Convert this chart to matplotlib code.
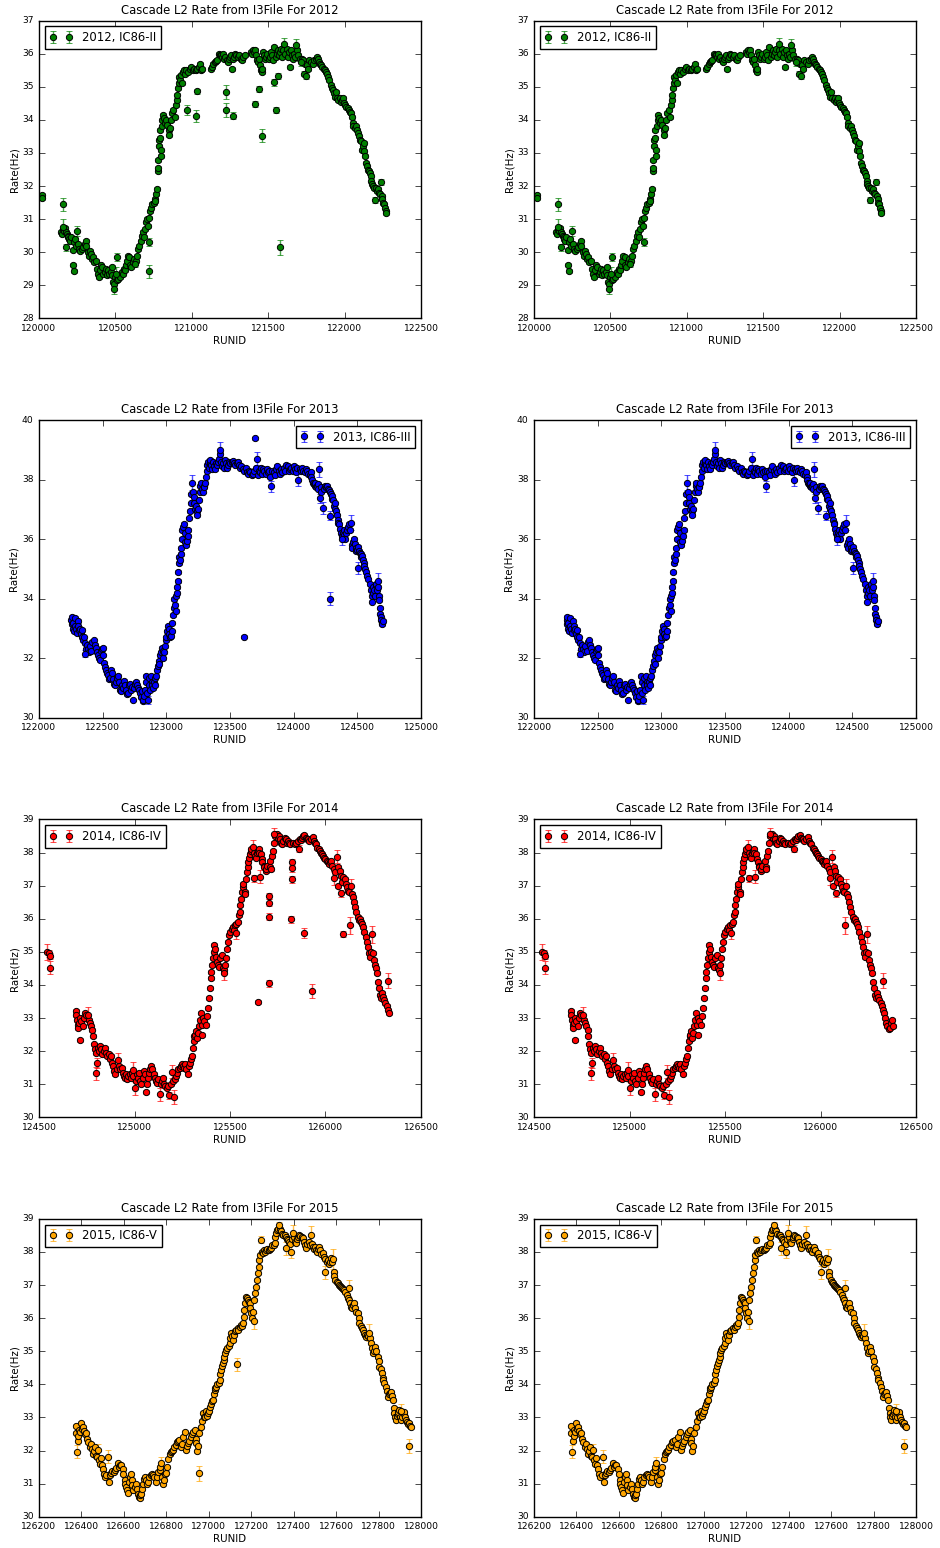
import matplotlib
matplotlib.use('Agg')
import matplotlib.pyplot as plt
import numpy as np

# (run, rate in Hz) for the good runs of each season
band_2012 = [
    (120018, 31.72), (120022, 31.65),
    (120145, 30.6), (120150, 30.55), (120155, 30.7), (120165, 30.65), (120170, 30.72), (120178, 30.6),
    (120182, 30.55), (120188, 30.5), (120193, 30.45), (120198, 30.4), (120205, 30.35), (120212, 30.45),
    (120220, 30.06), (120225, 29.63), (120226, 29.42), (120230, 30.3), (120236, 30.4), (120242, 30.2),
    (120255, 30.25), (120262, 30.1), (120270, 30.05), (120280, 30.1), (120290, 30.15), (120300, 30.25),
    (120305, 30.35), (120310, 30.2), (120318, 30.0), (120325, 29.9), (120332, 30.05), (120340, 29.95),
    (120348, 29.8), (120355, 29.85), (120362, 29.7), (120370, 29.75), (120378, 29.5), (120385, 29.35),
    (120392, 29.25), (120400, 29.45), (120408, 29.6), (120415, 29.55), (120422, 29.35), (120430, 29.4),
    (120438, 29.5), (120445, 29.3), (120452, 29.45), (120460, 29.35), (120468, 29.4), (120475, 29.55),
    (120480, 29.3), (120485, 29.1), (120492, 29.05), (120498, 29.25), (120512, 29.15), (120518, 29.2),
    (120525, 29.3), (120532, 29.25), (120540, 29.4), (120548, 29.35), (120555, 29.5), (120562, 29.45),
    (120570, 29.6), (120578, 29.75), (120585, 29.9), (120592, 29.85), (120598, 29.6), (120605, 29.55),
    (120612, 29.7), (120620, 29.8), (120635, 29.75), (120642, 29.9), (120650, 30.1), (120657, 30.2),
    (120665, 30.35), (120672, 30.5), (120680, 30.6), (120688, 30.45), (120694, 30.7), (120700, 30.9),
    (120705, 31.0), (120712, 30.8), (120722, 31.05), (120728, 31.25), (120735, 31.35), (120742, 31.45),
    (120750, 31.5), (120756, 31.6), (120762, 31.55), (120768, 31.75), (120772, 31.9), (120776, 32.45),
    (120778, 32.55), (120780, 32.8), (120783, 33.2), (120786, 33.4), (120790, 33.7), (120793, 33.45),
    (120797, 33.1), (120800, 32.9), (120803, 33.8), (120808, 34.0), (120812, 34.15), (120818, 34.05),
    (120825, 33.9), (120832, 34.0), (120840, 33.85), (120848, 33.7), (120853, 33.55), (120858, 33.75),
    (120865, 34.0), (120872, 34.2), (120880, 34.3), (120888, 34.1), (120895, 34.45), (120900, 34.6),
    (120905, 34.75), (120910, 34.95), (120915, 35.1), (120918, 35.3), (120922, 35.2), (120928, 35.35),
    (120935, 35.1), (120942, 35.45), (120950, 35.5), (120958, 35.4), (120965, 35.5), (120975, 35.45),
    (120985, 35.55), (120995, 35.6), (121005, 35.5), (121015, 35.55), (121025, 35.5), (121035, 35.55),
    (121045, 35.6), (121052, 35.68), (121060, 35.5), (121068, 35.55),
    (121128, 35.55), (121135, 35.6), (121142, 35.7), (121150, 35.75), (121158, 35.78), (121165, 35.8),
    (121175, 36.0), (121182, 35.95), (121190, 35.95), (121198, 35.9), (121205, 36.0), (121212, 35.85),
    (121220, 35.9), (121228, 35.8), (121235, 35.75), (121242, 35.85), (121250, 35.9), (121258, 35.95),
    (121265, 35.55), (121270, 35.85), (121278, 35.9), (121285, 36.0), (121292, 35.95), (121300, 35.9),
    (121310, 35.95), (121320, 35.85), (121328, 35.8), (121335, 35.9), (121345, 35.95),
    (121385, 36.05), (121392, 36.0), (121400, 36.1), (121405, 36.05), (121412, 36.1), (121420, 35.95),
    (121428, 35.8), (121435, 35.75), (121440, 35.85), (121446, 35.65), (121452, 35.5), (121458, 35.45),
    (121462, 35.55), (121466, 36.05), (121472, 35.95), (121480, 35.85), (121488, 35.9), (121495, 36.0),
    (121502, 35.85), (121510, 35.9), (121518, 36.05), (121525, 35.95), (121532, 35.8), (121540, 36.2),
    (121548, 35.9), (121555, 36.0), (121562, 36.1), (121570, 35.95), (121578, 36.05), (121585, 36.15),
    (121592, 35.9), (121600, 36.1), (121612, 36.0), (121620, 36.15), (121628, 35.9), (121635, 36.05),
    (121640, 35.6), (121648, 36.1), (121655, 35.95), (121662, 35.85), (121670, 36.0), (121677, 35.9),
    (121690, 36.1), (121697, 35.95), (121705, 35.85), (121720, 35.85), (121728, 35.8), (121742, 35.7),
    (121755, 35.65), (121762, 35.55), (121770, 35.8), (121780, 35.75), (121790, 35.7), (121800, 35.8),
    (121810, 35.85), (121818, 35.9), (121825, 35.85), (121832, 35.75), (121840, 35.7), (121848, 35.65),
    (121855, 35.6), (121862, 35.55), (121870, 35.5), (121878, 35.45), (121885, 35.4), (121892, 35.3),
    (121900, 35.2), (121908, 35.05), (121915, 34.95), (121922, 34.9), (121930, 34.8), (121938, 34.7),
    (121945, 34.85), (121952, 34.65), (121960, 34.6), (121968, 34.65), (121975, 34.55), (121982, 34.6),
    (121990, 34.65), (121998, 34.5), (122005, 34.45), (122012, 34.4), (122020, 34.35), (122028, 34.3),
    (122035, 34.25), (122042, 34.2), (122048, 34.1), (122053, 33.9), (122058, 33.8), (122065, 33.75),
    (122072, 33.8), (122080, 33.7), (122088, 33.6), (122094, 33.5), (122100, 33.4), (122106, 33.35),
    (122112, 33.1), (122118, 33.2), (122124, 33.3), (122130, 33.05), (122135, 32.9), (122140, 32.7),
    (122146, 32.6), (122152, 32.5), (122158, 32.45), (122164, 32.4), (122170, 32.3), (122176, 32.15),
    (122182, 32.05), (122188, 32.0), (122195, 31.95), (122206, 31.95), (122212, 31.85), (122218, 31.9),
    (122224, 31.8), (122230, 31.75), (122242, 31.7), (122248, 31.6), (122254, 31.5), (122260, 31.45),
    (122265, 31.35), (122270, 31.25), (122274, 31.2),
]
# short runs with a visible uncertainty: (run, rate, error)
short_2012 = [
    (120157, 31.45, 0.2), (120160, 30.75, 0.25), (120175, 30.15, 0.1), (120250, 30.64, 0.15),
    (120488, 28.9, 0.15), (120503, 29.35, 0.2), (120510, 29.85, 0.12), (120628, 29.65, 0.1),
    (120718, 30.3, 0.12), (121606, 36.3, 0.18), (121683, 36.25, 0.18), (121712, 35.75, 0.12),
    (121736, 35.4, 0.08), (121748, 35.32, 0.1), (122200, 31.58, 0.08), (122236, 32.12, 0.1),
]
# runs dropped by the quality cut
dropped_2012 = [
    (120719, 29.42, 0.2), (120968, 34.3, 0.15), (121029, 34.13, 0.18), (121035, 34.86, 0.08),
    (121225, 34.84, 0.2), (121225, 34.3, 0.2), (121268, 34.13, 0.1), (121415, 34.48, 0.1),
    (121460, 33.52, 0.2), (121443, 34.93, 0.1), (121537, 35.13, 0.1), (121552, 34.3, 0.1),
    (121563, 35.33, 0.08), (121574, 30.15, 0.22),
]

band_2013 = [
    (122255, 33.3), (122258, 33.15), (122262, 33.4), (122266, 33.0), (122270, 33.2), (122274, 32.9),
    (122280, 33.1), (122286, 33.35), (122292, 33.0), (122298, 32.85), (122304, 33.25), (122310, 33.1),
    (122316, 32.95), (122322, 33.0), (122328, 32.8), (122334, 32.95), (122340, 32.7), (122346, 32.6),
    (122352, 32.7), (122360, 32.5), (122372, 32.3), (122380, 32.45), (122388, 32.3), (122396, 32.2),
    (122404, 32.4), (122412, 32.25), (122420, 32.55), (122428, 32.6), (122436, 32.45), (122444, 32.35),
    (122452, 32.2), (122460, 32.1), (122468, 32.0), (122476, 31.95), (122484, 32.25), (122492, 32.3),
    (122500, 32.35), (122506, 32.1), (122512, 31.85), (122518, 31.7), (122524, 31.6), (122532, 31.5),
    (122540, 31.45), (122548, 31.3), (122556, 31.35), (122564, 31.6), (122572, 31.5), (122580, 31.3),
    (122588, 31.15), (122596, 31.1), (122604, 31.2), (122612, 31.35), (122620, 31.4), (122628, 31.2),
    (122636, 30.95), (122644, 30.9), (122652, 31.1), (122660, 31.0), (122668, 31.25), (122676, 31.1),
    (122684, 30.95), (122692, 30.8), (122700, 30.85), (122708, 31.1), (122716, 31.15), (122724, 30.95),
    (122732, 31.05), (122746, 31.0), (122754, 31.15), (122762, 31.2), (122770, 31.1), (122778, 31.0),
    (122786, 30.95), (122794, 30.85), (122802, 30.7), (122808, 30.9), (122814, 30.55), (122820, 30.6),
    (122826, 30.75), (122832, 30.95), (122838, 31.4), (122844, 31.2), (122850, 30.85), (122860, 31.35),
    (122866, 31.1), (122872, 30.95), (122878, 31.4), (122884, 31.2), (122890, 31.1), (122896, 31.0),
    (122902, 31.2), (122908, 31.1), (122914, 31.35), (122920, 31.4), (122928, 31.6), (122934, 31.75),
    (122940, 31.9), (122946, 31.8), (122952, 32.1), (122958, 32.2), (122964, 32.35), (122970, 32.25),
    (122976, 32.0), (122982, 32.2), (122988, 32.4), (122994, 32.6), (123000, 32.7), (123006, 32.9),
    (123012, 33.1), (123018, 33.0), (123024, 32.8), (123030, 32.7), (123036, 32.75), (123042, 32.9),
    (123048, 33.2), (123054, 33.45), (123060, 33.7), (123064, 34.0), (123068, 33.8), (123072, 33.6),
    (123076, 34.1), (123080, 34.2), (123084, 34.4), (123088, 34.6), (123092, 34.9), (123096, 35.2),
    (123100, 35.4), (123106, 35.3), (123112, 35.5), (123118, 35.7), (123122, 36.0), (123126, 36.3),
    (123132, 36.4), (123138, 36.5), (123144, 36.2), (123150, 35.9), (123156, 35.8), (123162, 35.95),
    (123168, 36.1), (123174, 36.3), (123180, 36.7), (123186, 36.95), (123190, 37.2), (123196, 37.5),
    (123208, 37.6), (123214, 37.4), (123220, 37.2), (123226, 37.0), (123232, 37.1), (123238, 36.95),
    (123244, 36.8), (123250, 37.0), (123256, 37.3), (123262, 37.6), (123268, 37.8), (123274, 37.9),
    (123280, 37.7), (123286, 37.6), (123292, 37.8), (123298, 37.75), (123304, 37.9), (123310, 38.1),
    (123316, 38.3), (123322, 38.5), (123328, 38.6), (123334, 38.4), (123340, 38.55), (123346, 38.65),
    (123352, 38.5), (123358, 38.35), (123364, 38.6), (123372, 38.45), (123380, 38.35), (123388, 38.55),
    (123396, 38.5), (123404, 38.6), (123412, 38.7), (123424, 38.85), (123430, 38.6), (123438, 38.45),
    (123446, 38.55), (123454, 38.4), (123462, 38.65), (123470, 38.55), (123478, 38.4), (123486, 38.5),
    (123494, 38.6), (123502, 38.55), (123512, 38.6), (123522, 38.62), (123532, 38.55), (123542, 38.5),
    (123552, 38.55), (123562, 38.6), (123572, 38.5), (123580, 38.4), (123590, 38.45), (123600, 38.35),
    (123612, 38.3), (123622, 38.4), (123630, 38.25), (123640, 38.2), (123650, 38.3), (123660, 38.25),
    (123670, 38.15), (123680, 38.2), (123690, 38.3), (123702, 38.4), (123716, 38.15), (123724, 38.3),
    (123734, 38.25), (123744, 38.4), (123752, 38.2), (123760, 38.35), (123770, 38.3), (123780, 38.2),
    (123790, 38.35), (123800, 38.25), (123810, 38.3), (123816, 38.1), (123832, 38.3), (123842, 38.25),
    (123852, 38.15), (123862, 38.35), (123872, 38.45), (123882, 38.3), (123892, 38.2), (123902, 38.35),
    (123912, 38.25), (123922, 38.4), (123932, 38.3), (123942, 38.5), (123952, 38.45), (123962, 38.3),
    (123972, 38.35), (123982, 38.4), (123992, 38.3), (124002, 38.45), (124012, 38.35), (124022, 38.25),
    (124030, 38.4), (124046, 38.35), (124056, 38.3), (124066, 38.4), (124076, 38.3), (124086, 38.25),
    (124096, 38.35), (124106, 38.3), (124116, 38.2), (124126, 38.15), (124134, 38.25), (124140, 38.1),
    (124146, 38.0), (124152, 37.9), (124158, 37.85), (124164, 37.8), (124170, 37.9), (124176, 37.75),
    (124182, 37.8), (124188, 37.85), (124194, 37.7), (124212, 37.75), (124218, 37.6), (124236, 37.7),
    (124244, 37.8), (124252, 37.75), (124260, 37.8), (124268, 37.7), (124276, 37.65), (124284, 37.6),
    (124292, 37.5), (124298, 37.35), (124304, 37.45), (124310, 37.3), (124316, 37.1), (124322, 37.2),
    (124328, 37.0), (124334, 36.95), (124340, 36.8), (124346, 36.65), (124352, 36.55), (124358, 36.5),
    (124364, 36.35), (124370, 36.2), (124376, 36.1), (124386, 36.2), (124392, 36.3), (124398, 36.15),
    (124406, 36.0), (124414, 36.2), (124422, 36.3), (124430, 36.4), (124438, 36.5), (124444, 36.3),
    (124456, 35.8), (124462, 35.7), (124468, 35.9), (124474, 36.0), (124480, 35.85), (124486, 35.7),
    (124492, 35.6), (124498, 35.65), (124508, 35.75), (124514, 35.6), (124520, 35.55), (124526, 35.5),
    (124532, 35.4), (124538, 35.45), (124544, 35.3), (124550, 35.2), (124556, 35.1), (124562, 35.0),
    (124568, 34.9), (124574, 34.75), (124580, 34.65), (124600, 34.5), (124606, 34.3), (124612, 34.1),
    (124616, 33.9), (124620, 34.2), (124626, 34.4), (124632, 34.3), (124638, 34.1), (124644, 34.45),
    (124650, 34.5), (124654, 34.3), (124664, 34.4), (124668, 34.1), (124672, 33.95), (124676, 33.7),
    (124680, 33.5), (124684, 33.4), (124688, 33.3), (124692, 33.2), (124696, 33.15), (124700, 33.25),
]
short_2013 = [
    (122364, 32.16, 0.12), (122738, 30.6, 0.05), (122855, 30.6, 0.15), (123203, 37.9, 0.25),
    (123418, 39.0, 0.25), (123711, 38.7, 0.22), (123823, 37.78, 0.18), (124038, 38.0, 0.22),
    (124202, 38.34, 0.25), (124208, 37.38, 0.15), (124228, 37.05, 0.2), (124289, 36.78, 0.15),
    (124380, 35.99, 0.2), (124450, 36.55, 0.25), (124503, 35.04, 0.2), (124660, 34.6, 0.25),
]
dropped_2013 = [
    (123609, 32.72, 0.05), (123698, 39.38, 0.05), (124289, 34.0, 0.22),
]

band_2014 = [
    (124693, 33.2), (124696, 33.1), (124699, 32.95), (124702, 32.8), (124705, 32.7), (124708, 32.85),
    (124717, 33.0), (124722, 32.9), (124728, 32.75), (124735, 33.0), (124742, 33.15), (124748, 33.1),
    (124762, 32.95), (124768, 32.85), (124774, 32.75), (124780, 32.65), (124785, 32.45), (124790, 32.2),
    (124794, 32.05), (124800, 31.95), (124808, 32.1), (124814, 32.0), (124820, 32.15), (124826, 32.05),
    (124832, 31.9), (124838, 32.0), (124845, 32.1), (124852, 31.95), (124858, 31.85), (124864, 31.9),
    (124870, 31.75), (124876, 31.85), (124882, 31.65), (124888, 31.55), (124894, 31.4), (124900, 31.3),
    (124906, 31.45), (124920, 31.55), (124926, 31.45), (124932, 31.5), (124938, 31.35), (124944, 31.25),
    (124950, 31.2), (124956, 31.3), (124962, 31.15), (124968, 31.25), (124974, 31.3), (124980, 31.2),
    (124986, 31.35), (124994, 31.25), (125006, 31.1), (125012, 31.3), (125018, 31.2), (125024, 31.35),
    (125030, 31.1), (125036, 31.0), (125042, 31.2), (125048, 31.4), (125054, 31.3), (125060, 30.75),
    (125064, 31.0), (125070, 31.2), (125076, 31.35), (125082, 31.45), (125088, 31.55), (125094, 31.45),
    (125100, 31.3), (125106, 31.2), (125112, 31.1), (125118, 31.05), (125124, 31.15), (125138, 31.0),
    (125144, 31.1), (125150, 31.2), (125156, 31.0), (125162, 30.95), (125168, 30.9), (125176, 30.95),
    (125190, 31.0), (125200, 31.1), (125212, 31.15), (125218, 31.25), (125224, 31.35), (125230, 31.45),
    (125236, 31.5), (125242, 31.55), (125248, 31.6), (125254, 31.55), (125260, 31.5), (125266, 31.6),
    (125272, 31.45), (125278, 31.3), (125284, 31.55), (125290, 31.65), (125296, 31.75), (125302, 31.85),
    (125306, 32.1), (125310, 32.3), (125314, 32.45), (125318, 32.5), (125322, 32.6), (125328, 32.4),
    (125334, 32.55), (125340, 32.75), (125344, 32.95), (125348, 33.15), (125352, 32.8), (125356, 32.5),
    (125360, 33.0), (125366, 32.9), (125372, 32.8), (125378, 33.05), (125384, 33.3), (125390, 33.6),
    (125394, 33.9), (125398, 34.2), (125402, 34.4), (125406, 34.6), (125410, 34.8), (125414, 35.0),
    (125418, 35.2), (125422, 35.1), (125426, 34.85), (125432, 34.7), (125438, 34.6), (125444, 34.55),
    (125450, 34.8), (125456, 34.9), (125462, 34.5), (125468, 34.45), (125476, 34.6), (125480, 34.8),
    (125486, 35.1), (125490, 35.3), (125496, 35.5), (125502, 35.6), (125508, 35.7), (125514, 35.75),
    (125520, 35.65), (125526, 35.8), (125534, 35.85), (125540, 35.9), (125546, 36.1), (125550, 36.2),
    (125554, 36.4), (125558, 36.6), (125562, 36.8), (125566, 36.95), (125570, 37.05), (125576, 36.8),
    (125580, 36.75), (125584, 37.2), (125588, 37.4), (125592, 37.55), (125596, 37.7), (125600, 37.85),
    (125604, 37.95), (125608, 38.05), (125612, 38.1), (125624, 38.0), (125632, 37.9), (125636, 37.85),
    (125640, 38.0), (125644, 38.05), (125650, 38.1), (125654, 38.0), (125662, 37.95), (125666, 37.8),
    (125670, 37.7), (125676, 37.6), (125680, 37.55), (125686, 37.45), (125690, 37.5), (125696, 37.6),
    (125708, 37.75), (125712, 37.55), (125716, 37.5), (125720, 37.9), (125724, 38.05), (125728, 38.3),
    (125738, 38.5), (125744, 38.55), (125750, 38.45), (125756, 38.5), (125762, 38.4), (125768, 38.3),
    (125774, 38.25), (125780, 38.35), (125786, 38.45), (125792, 38.4), (125798, 38.3), (125804, 38.35),
    (125810, 38.3), (125816, 38.25), (125830, 38.3), (125838, 38.25), (125846, 38.3), (125854, 38.35),
    (125866, 38.4), (125872, 38.38), (125878, 38.45), (125884, 38.5), (125890, 38.52), (125896, 38.45),
    (125902, 38.4), (125908, 38.42), (125916, 38.35), (125924, 38.4), (125932, 38.48), (125940, 38.35),
    (125946, 38.3), (125952, 38.25), (125958, 38.15), (125964, 38.1), (125970, 38.05), (125976, 38.0),
    (125982, 37.95), (125988, 37.9), (125994, 37.85), (126000, 37.8), (126006, 37.75), (126012, 37.7),
    (126018, 37.65), (126024, 37.7), (126030, 37.75), (126036, 37.6), (126042, 37.5), (126052, 37.4),
    (126064, 37.0), (126068, 37.55), (126074, 37.45), (126080, 37.3), (126086, 37.1), (126094, 37.25),
    (126100, 37.2), (126106, 37.05), (126112, 36.95), (126118, 36.85), (126124, 36.8), (126138, 36.75),
    (126144, 36.65), (126150, 36.5), (126156, 36.35), (126162, 36.2), (126168, 36.05), (126174, 35.95),
    (126180, 36.0), (126186, 35.9), (126192, 35.85), (126198, 35.75), (126204, 35.6), (126210, 35.45),
    (126216, 35.3), (126222, 35.15), (126228, 34.95), (126234, 34.85), (126240, 35.0), (126248, 34.95),
    (126254, 34.75), (126260, 34.6), (126266, 34.5), (126272, 34.35), (126276, 34.1), (126280, 33.9),
    (126284, 33.7), (126290, 33.6), (126296, 33.75), (126302, 33.65), (126308, 33.55), (126314, 33.45),
    (126320, 33.35), (126326, 33.25), (126332, 33.15),
]
short_2014 = [
    (124544, 35.0, 0.25), (124552, 34.95, 0.1), (124559, 34.87, 0.1), (124559, 34.52, 0.2),
    (124713, 32.34, 0.05), (124756, 33.1, 0.22), (124796, 31.33, 0.2), (124803, 31.63, 0.15),
    (124913, 31.74, 0.2), (124992, 31.43, 0.25), (125000, 30.88, 0.2), (125131, 30.7, 0.2),
    (125183, 30.66, 0.1), (125196, 31.38, 0.2), (125206, 30.61, 0.2), (125471, 34.35, 0.2),
    (125529, 35.58, 0.2), (125619, 38.17, 0.2), (125628, 37.22, 0.1), (125658, 37.27, 0.2),
    (125733, 38.55, 0.2), (125860, 38.12, 0.1), (126047, 37.22, 0.2), (126059, 37.87, 0.2),
    (126082, 36.77, 0.1), (126134, 36.99, 0.2), (126130, 35.8, 0.25), (126244, 35.53, 0.25),
    (126329, 34.13, 0.22),
]
dropped_2014 = [
    (125646, 33.48, 0.05), (125703, 36.69, 0.1), (125703, 36.49, 0.1), (125703, 36.06, 0.1),
    (125703, 34.05, 0.1), (125823, 37.7, 0.1), (125823, 37.52, 0.1), (125823, 37.19, 0.1),
    (125820, 35.98, 0.1), (125889, 35.58, 0.15), (125928, 33.82, 0.22), (126090, 35.54, 0.1),
]
# last runs of the season, only in the filtered list
late_2014 = [
    (126338, 33.0), (126344, 32.85), (126350, 32.75), (126356, 32.68), (126362, 32.7),
    (126368, 32.85), (126374, 32.95), (126378, 32.75),
]

band_2015 = [
    (126373, 32.75), (126376, 32.52), (126382, 32.3), (126386, 32.45), (126390, 32.62), (126394, 32.55),
    (126399, 32.82), (126404, 32.65), (126408, 32.72), (126413, 32.6), (126418, 32.5), (126423, 32.52),
    (126428, 32.35), (126433, 32.25), (126438, 32.12), (126443, 32.2), (126448, 32.05), (126453, 31.91),
    (126458, 32.0), (126463, 32.12), (126468, 31.85), (126473, 31.81), (126483, 31.7), (126488, 31.6),
    (126493, 31.76), (126498, 31.55), (126503, 31.45), (126508, 31.3), (126513, 31.2), (126518, 31.25),
    (126530, 31.04), (126535, 31.25), (126540, 31.31), (126546, 31.38), (126552, 31.35), (126558, 31.4),
    (126564, 31.46), (126570, 31.61), (126576, 31.5), (126582, 31.55), (126588, 31.56), (126594, 31.45),
    (126598, 31.3), (126603, 31.11), (126607, 31.0), (126611, 30.91), (126615, 30.8), (126619, 30.73),
    (126624, 31.05), (126628, 31.21), (126632, 31.3), (126636, 31.11), (126640, 30.95), (126645, 30.8),
    (126650, 30.9), (126655, 31.0), (126660, 30.85), (126665, 30.7), (126670, 30.6), (126674, 30.57),
    (126678, 30.65), (126682, 30.7), (126686, 30.85), (126690, 31.0), (126694, 31.15), (126698, 31.21),
    (126703, 31.1), (126708, 31.0), (126714, 31.05), (126720, 31.2), (126726, 31.26), (126732, 31.3),
    (126738, 31.25), (126744, 31.21), (126750, 31.06), (126756, 31.2), (126762, 31.35), (126768, 31.41),
    (126772, 31.5), (126780, 31.2), (126784, 31.0), (126790, 31.1), (126795, 31.3), (126800, 31.31),
    (126805, 31.5), (126810, 31.75), (126815, 31.91), (126820, 31.95), (126826, 32.0), (126832, 32.01),
    (126838, 32.1), (126844, 32.17), (126850, 32.25), (126856, 32.3), (126862, 32.32), (126868, 32.12),
    (126874, 32.2), (126880, 32.4), (126886, 32.57), (126891, 32.03), (126896, 32.15), (126902, 32.22),
    (126908, 32.3), (126914, 32.42), (126920, 32.5), (126926, 32.55), (126933, 32.62), (126938, 32.35),
    (126941, 32.22), (126946, 32.0), (126950, 32.15), (126956, 32.52), (126961, 32.72), (126966, 32.9),
    (126972, 33.12), (126976, 33.0), (126980, 33.02), (126986, 33.2), (126991, 33.05), (126996, 33.12),
    (127000, 33.2), (127004, 33.32), (127010, 33.4), (127015, 33.5), (127019, 33.52), (127023, 33.7),
    (127027, 33.83), (127031, 33.9), (127035, 33.93), (127040, 34.0), (127046, 34.05), (127051, 34.13),
    (127055, 34.3), (127058, 34.43), (127062, 34.55), (127066, 34.64), (127070, 34.75), (127074, 34.84),
    (127078, 34.95), (127082, 35.04), (127088, 35.1), (127093, 35.15), (127098, 35.24), (127102, 35.4),
    (127106, 35.54), (127110, 35.45), (127113, 35.34), (127118, 35.5), (127124, 35.6), (127129, 35.64),
    (127136, 35.7), (127140, 35.65), (127145, 35.74), (127150, 35.8), (127155, 35.75), (127160, 35.84),
    (127164, 36.05), (127168, 36.25), (127172, 36.45), (127176, 36.65), (127180, 36.6), (127184, 36.55),
    (127188, 36.5), (127192, 36.45), (127196, 36.3), (127200, 36.15), (127204, 36.0), (127208, 36.2),
    (127215, 36.55), (127219, 36.75), (127223, 36.95), (127227, 37.15), (127231, 37.36), (127235, 37.55),
    (127239, 37.76), (127243, 37.9), (127251, 38.0), (127255, 37.96), (127260, 38.05), (127265, 38.0),
    (127270, 38.06), (127276, 38.08), (127282, 38.05), (127288, 38.1), (127294, 38.11), (127300, 38.2),
    (127305, 38.22), (127310, 38.26), (127314, 38.45), (127317, 38.57), (127322, 38.65), (127326, 38.7),
    (127335, 38.7), (127341, 38.62), (127346, 38.55), (127352, 38.5), (127357, 38.52), (127362, 38.45),
    (127370, 38.4), (127375, 38.35), (127380, 38.31), (127385, 38.25), (127392, 38.4), (127400, 38.45),
    (127406, 38.3), (127412, 38.26), (127418, 38.4), (127422, 38.45), (127427, 38.52), (127432, 38.48),
    (127437, 38.45), (127443, 38.42), (127448, 38.3), (127453, 38.2), (127459, 38.11), (127465, 38.25),
    (127470, 38.3), (127476, 38.2), (127486, 38.25), (127490, 38.16), (127496, 38.1), (127500, 38.15),
    (127506, 38.06), (127511, 38.0), (127516, 38.1), (127521, 38.16), (127526, 38.05), (127531, 37.95),
    (127537, 37.96), (127542, 37.85), (127546, 37.8), (127556, 37.7), (127561, 37.76), (127566, 37.65),
    (127571, 37.7), (127576, 37.81), (127580, 37.7), (127588, 37.4), (127592, 37.26), (127597, 37.15),
    (127602, 37.1), (127608, 37.05), (127613, 37.0), (127618, 36.98), (127623, 36.95), (127628, 36.9),
    (127634, 36.87), (127639, 36.85), (127644, 36.8), (127650, 36.7), (127655, 36.6), (127659, 36.55),
    (127667, 36.45), (127670, 36.35), (127675, 36.3), (127680, 36.4), (127686, 36.45), (127690, 36.3),
    (127695, 36.2), (127702, 36.15), (127706, 36.0), (127710, 35.84), (127715, 35.75), (127720, 35.7),
    (127725, 35.64), (127730, 35.55), (127735, 35.5), (127741, 35.44), (127746, 35.5), (127752, 35.45),
    (127760, 35.4), (127765, 35.24), (127769, 35.1), (127773, 34.94), (127778, 35.0), (127785, 35.14),
    (127790, 35.0), (127796, 34.84), (127800, 34.7), (127804, 34.53), (127810, 34.45), (127816, 34.33),
    (127820, 34.2), (127823, 34.13), (127828, 34.05), (127835, 33.93), (127840, 33.8), (127843, 33.63),
    (127848, 33.7), (127854, 33.75), (127859, 33.78), (127863, 33.65), (127867, 33.53), (127871, 33.3),
    (127875, 33.12), (127879, 33.0), (127882, 32.92), (127886, 33.05), (127890, 33.1), (127894, 33.15),
    (127898, 33.22), (127902, 33.0), (127906, 32.92), (127912, 33.0), (127918, 33.1), (127922, 33.17),
    (127926, 33.0), (127929, 32.92), (127934, 32.85), (127940, 32.8), (127945, 32.82), (127950, 32.75),
    (127953, 32.72),
]
short_2015 = [
    (126379, 31.96, 0.2), (126478, 32.01, 0.2), (126525, 31.81, 0.2), (126776, 31.61, 0.2),
    (127211, 35.92, 0.25), (127247, 38.37, 0.1), (127330, 38.82, 0.1), (127364, 38.11, 0.2),
    (127388, 38.01, 0.2), (127396, 38.57, 0.25), (127482, 38.52, 0.25), (127550, 37.38, 0.2),
    (127584, 37.8, 0.3), (127663, 36.9, 0.25), (127757, 35.56, 0.25), (127907, 33.2, 0.2),
    (127942, 32.14, 0.22),
]
dropped_2015 = [
    (126956, 31.31, 0.22), (127134, 34.61, 0.2),
]

years = [2012, 2013, 2014, 2015]
configs = ['IC86-II', 'IC86-III', 'IC86-IV', 'IC86-V']
colors = ['g', 'b', 'r', 'orange']
band_err = 0.06  # typical statistical error of a full length run
xlims = [(120000, 122500), (122000, 125000), (124500, 126500), (126200, 128000)]
xsteps = [500, 500, 500, 200]
ylims = [(28, 37), (30, 40), (30, 39), (30, 39)]
ysteps = [1, 2, 1, 1]
legend_locs = ['upper left', 'upper right', 'upper left', 'upper left']

bands = [band_2012, band_2013, band_2014, band_2015]
shorts = [short_2012, short_2013, short_2014, short_2015]
dropped = [dropped_2012, dropped_2013, dropped_2014, dropped_2015]
extras = [[], [], late_2014, []]

plt.style.use('classic')
fig, axes = plt.subplots(4, 2, figsize=(9.4, 15.48), dpi=100, facecolor='white')
fig.subplots_adjust(left=0.0415, right=0.9745, bottom=0.0202, top=0.9867, wspace=0.296, hspace=0.341)


def to_arrays(band, short, extra_pts):
    pts = [(r, v, band_err) for r, v in band] + list(short) + [(r, v, band_err) for r, v in extra_pts]
    arr = np.array(pts)
    return arr[:, 0], arr[:, 1], arr[:, 2]


for i, year in enumerate(years):
    for col in range(2):
        ax = axes[i, col]
        if col == 0:
            # every run that came out of the I3 files
            run, rate, err = to_arrays(bands[i], shorts[i] + dropped[i], [])
        else:
            # after the run quality selection
            run, rate, err = to_arrays(bands[i], shorts[i], extras[i])

        markers, caps, bars = ax.errorbar(run, rate, yerr=err, fmt='o', color=colors[i], ecolor=colors[i],
                                          mec='k', mew=0.7, ms=4.5, capsize=2, capthick=1, elinewidth=1,
                                          label='%d, %s' % (year, configs[i]))
        for c in caps:
            c.set_alpha(0.7)
        for b in bars:
            b.set_alpha(0.7)

        ax.set_xlim(xlims[i])
        ax.set_ylim(ylims[i])
        ax.set_xticks(np.arange(xlims[i][0], xlims[i][1] + 1, xsteps[i]))
        ax.set_yticks(np.arange(ylims[i][0], ylims[i][1] + 1, ysteps[i]))
        ax.ticklabel_format(useOffset=False, style='plain')
        ax.tick_params(labelsize=6.6)
        ax.set_facecolor('white')

        ax.set_title('Cascade L2 Rate from I3File For %d' % year, fontsize=8.4, y=1.0)
        ax.set_xlabel('RUNID', fontsize=7.4, labelpad=2)
        ax.set_ylabel('Rate(Hz)', fontsize=7.4, labelpad=2)
        ax.legend(loc=legend_locs[i], numpoints=2, fontsize=8.4)

plt.savefig('out.png', dpi=100, facecolor='white')
